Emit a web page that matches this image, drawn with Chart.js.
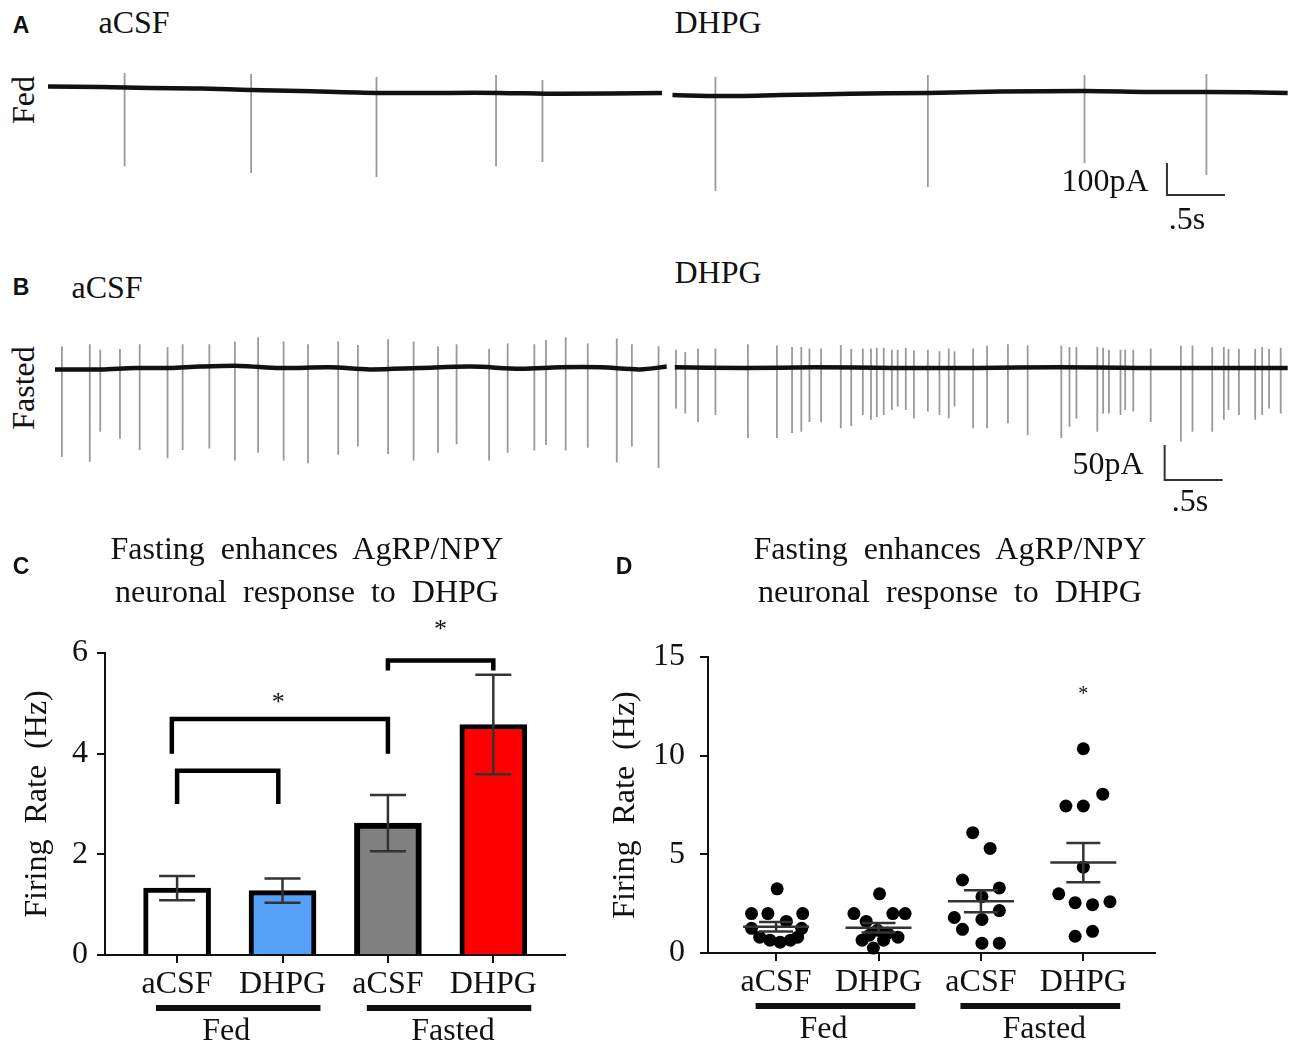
<!DOCTYPE html>
<html>
<head>
<meta charset="utf-8">
<script src="https://cdn.jsdelivr.net/npm/chart.js@4.4.1/dist/chart.umd.min.js"></script>
<style>
  body { margin: 0; background: #fff; }
  #fig { position: relative; width: 1300px; height: 1053px; overflow: hidden; font-family: "Liberation Serif", "Times New Roman", serif; color: #111; }
  canvas { position: absolute; }
  .t { position: absolute; transform: translate(-50%, -50%); font-size: 32px; line-height: 1; white-space: pre; }
  .letter { font-family: "Liberation Sans", Arial, sans-serif; font-weight: bold; font-size: 23px; }
  .rot { transform: translate(-50%, -50%) rotate(-90deg); }
</style>
</head>
<body>
<div id="fig">
  <canvas id="traceA" width="1242" height="176" style="left:48px;top:58px"></canvas>
  <canvas id="traceB" width="1242" height="168" style="left:48px;top:326px"></canvas>
  <canvas id="barChart" width="570" height="533" style="left:0px;top:520px"></canvas>
  <canvas id="dotChart" width="600" height="533" style="left:590px;top:520px"></canvas>

  <div class="t letter" style="left:21px;top:25px">A</div>
  <div class="t" style="left:134px;top:22px">aCSF</div>
  <div class="t" style="left:718px;top:22px">DHPG</div>
  <div class="t rot" style="left:23px;top:100px">Fed</div>
  <div class="t" style="left:1105px;top:180px">100pA</div>
  <div class="t" style="left:1187px;top:218px">.5s</div>

  <div class="t letter" style="left:21px;top:287px">B</div>
  <div class="t" style="left:107px;top:287px">aCSF</div>
  <div class="t" style="left:718px;top:272px">DHPG</div>
  <div class="t rot" style="left:23px;top:388px">Fasted</div>
  <div class="t" style="left:1108px;top:463px">50pA</div>
  <div class="t" style="left:1190px;top:500px">.5s</div>

  <div class="t letter" style="left:21px;top:566px">C</div>
  <div class="t" style="left:307px;top:548px">Fasting  enhances  AgRP/NPY</div>
  <div class="t" style="left:307px;top:591px">neuronal  response  to  DHPG</div>

  <div class="t letter" style="left:624px;top:566px">D</div>
  <div class="t" style="left:950px;top:548px">Fasting  enhances  AgRP/NPY</div>
  <div class="t" style="left:950px;top:591px">neuronal  response  to  DHPG</div>
</div>

<script>
Chart.defaults.font.family = '"Liberation Serif", "Times New Roman", serif';
Chart.defaults.color = '#111';
Chart.defaults.animation = false;
Chart.defaults.plugins.legend.display = false;
Chart.defaults.plugins.tooltip.enabled = false;

// ---- traces (time in s, current in pA) ----
// A: fed neuron
const fedAcsfBaseT = [0, 0.45, 0.88, 1.31, 1.74, 2.17, 2.83, 3.46, 3.89, 4.41, 5.29];
const fedAcsfBaseV = [11, 9, 6, 5, 0, -3, -9, -9, -9, -12, -9];
const fedAcsfSpikeT = [0.66, 1.75, 2.83, 3.86, 4.26];
const fedAcsfSpikeTop = [53, 50, 41, 47, 31];
const fedAcsfSpikeBottom = [-238, -259, -272, -238, -225];

const fedDhpgBaseT = [5.38, 5.79, 6.31, 6.91, 7.58, 8.2, 8.93, 9.49, 9.98, 10.68];
const fedDhpgBaseV = [-16, -19, -16, -12, -9, -5, -3, -6, -6, -9];
const fedDhpgSpikeT = [5.75, 7.58, 8.93, 9.98];
const fedDhpgSpikeTop = [41, 47, 47, 50];
const fedDhpgSpikeBottom = [-316, -303, -228, -266];

// B: fasted neuron
const fastedAcsfBaseT = [0.06, 0.45, 0.75, 1.05, 1.31, 1.65, 2.0, 2.43, 2.77, 3.2, 3.64, 4.07, 4.41, 4.76, 5.1, 5.33];
const fastedAcsfBaseV = [-2, -2, 0, 0, 2, 3, 0, 1, -2, 0, 2, -1, 1, 1, -2, 2];
const fastedAcsfSpikeT = [0.12, 0.36, 0.45, 0.62, 0.79, 1.03, 1.16, 1.39, 1.61, 1.81, 2.03, 2.24, 2.50, 2.67, 2.93, 3.15, 3.36, 3.52, 3.80, 3.96, 4.19, 4.29, 4.46, 4.65, 4.90, 5.03, 5.26];
const fastedAcsfSpikeTop = [31, 34, 26, 27, 34, 30, 34, 34, 38, 44, 38, 34, 38, 33, 41, 38, 31, 34, 27, 35, 34, 40, 44, 35, 42, 34, 31];
const fastedAcsfSpikeBottom = [-127, -134, -91, -101, -117, -129, -117, -115, -132, -121, -132, -136, -124, -112, -123, -132, -121, -109, -132, -121, -118, -110, -118, -114, -135, -112, -143];

const fastedDhpgBaseT = [5.4, 6.0, 6.6, 7.3, 8.0, 8.7, 9.4, 10.1, 10.68];
const fastedDhpgBaseV = [1, 0, 1, 0, 0, 1, 0, 0, 0];
const fastedDhpgSpikeT = [5.41, 5.49, 5.60, 5.75, 6.03, 6.28, 6.41, 6.49, 6.56, 6.66, 6.83, 6.92, 7.02, 7.09, 7.14, 7.20, 7.27, 7.32, 7.39, 7.46, 7.58, 7.68, 7.76, 7.81, 7.97, 8.09, 8.27, 8.44, 8.73, 8.80, 8.86, 9.04, 9.09, 9.14, 9.24, 9.28, 9.35, 9.50, 9.76, 9.86, 10.03, 10.13, 10.17, 10.26, 10.40, 10.46, 10.52, 10.62];
const fastedDhpgSpikeTop = [26, 23, 28, 28, 34, 32, 30, 30, 28, 28, 33, 27, 28, 28, 29, 29, 26, 26, 29, 25, 26, 24, 28, 24, 28, 32, 34, 32, 32, 30, 30, 30, 29, 26, 26, 26, 26, 28, 32, 32, 30, 30, 27, 27, 27, 30, 27, 29];
const fastedDhpgSpikeBottom = [-58, -65, -77, -67, -100, -100, -93, -91, -77, -78, -86, -83, -67, -74, -70, -67, -60, -55, -60, -72, -62, -67, -72, -55, -86, -86, -79, -96, -100, -84, -72, -91, -65, -65, -67, -60, -62, -77, -105, -91, -91, -74, -60, -67, -74, -67, -58, -65];

// scale bars: [time, current] of the corner, and sizes
const scaleBarA = [9.64, -328];
const scaleBarB = [9.62, -160];
const scaleBarSeconds = 0.5;
const scaleBarApA = 100;
const scaleBarBpA = 50;

// ---- summary data (C and D) ----
const groupLabels = ["aCSF", "DHPG", "aCSF", "DHPG"];
const conditionLabels = ["Fed", "Fasted"];
const meanRate = [1.33, 1.28, 2.62, 4.58];
const semRate = [0.24, 0.24, 0.56, 0.99];

const fedAcsfRate = [3.25, 2.0, 2.0, 2.0, 1.6, 1.25, 1.25, 0.8, 0.65, 0.55, 0.65, 0.8];
const fedAcsfJitter = [0.01, -0.24, -0.08, 0.26, 0.10, -0.24, 0.25, -0.16, -0.06, 0.04, 0.14, 0.21];
const fedDhpgRate = [3.0, 2.0, 2.0, 2.0, 1.6, 1.15, 0.65, 0.65, 0.8, 0.25, 1.0, 0.9];
const fedDhpgJitter = [0.01, -0.24, 0.14, 0.26, -0.12, -0.01, -0.16, 0.05, 0.19, -0.05, 0.09, -0.09];
const fastedAcsfRate = [6.1, 5.3, 3.7, 3.3, 2.85, 1.8, 2.15, 1.7, 1.2, 0.5, 0.5];
const fastedAcsfJitter = [-0.08, 0.09, -0.18, 0.18, 0.01, -0.26, 0.18, 0.01, -0.18, 0.01, 0.18];
const fastedDhpgRate = [10.35, 7.45, 7.45, 8.05, 4.35, 3.0, 2.55, 2.45, 2.6, 0.85, 1.1];
const fastedDhpgJitter = [0, -0.17, 0, 0.19, 0, -0.24, -0.08, 0.09, 0.26, -0.08, 0.09];

// significance brackets for C: [from group, to group, bar level, leg end]
const brackets = [
  [1, 1.96, 3.66, 3.0],
  [0.95, 3, 4.69, 4.0],
  [3, 4, 5.85, 5.65]
];
const starC = [[1.96, 5.0], [3.5, 6.46]];
const starD = [[4, 13.1]];

// ---------------------------------------------------------------
function pts(xs, ys) {
  return xs.map((x, i) => ({ x: x, y: ys[i] }));
}

function spikeLines(times, tops, bottoms) {
  const out = [];
  times.forEach((t, i) => {
    out.push({ x: t, y: tops[i] }, { x: t, y: bottoms[i] }, { x: t, y: null });
  });
  return out;
}

function traceChart(id, yMin, yMax, base1, base2, spikes, bar, barPa) {
  new Chart(id, {
    type: "line",
    data: {
      datasets: [
        { data: base1, borderColor: "#111", borderWidth: 4.5, tension: 0.3 },
        { data: base2, borderColor: "#111", borderWidth: 4.5, tension: 0.3 },
        { data: spikes, borderColor: "#9a9a9a", borderWidth: 1.8, spanGaps: false },
        {
          data: [
            { x: bar[0], y: bar[1] + barPa },
            { x: bar[0], y: bar[1] },
            { x: bar[0] + scaleBarSeconds, y: bar[1] }
          ],
          borderColor: "#333", borderWidth: 2
        }
      ]
    },
    options: {
      responsive: false,
      layout: { padding: 0 },
      elements: { point: { radius: 0 }, line: { borderCapStyle: "butt" } },
      datasets: { line: { clip: false } },
      scales: {
        x: { type: "linear", display: false, min: 0, max: 10.7 },
        y: { display: false, min: yMin, max: yMax }
      }
    }
  });
}

traceChart("traceA", -450, 100,
  pts(fedAcsfBaseT, fedAcsfBaseV), pts(fedDhpgBaseT, fedDhpgBaseV),
  spikeLines(fedAcsfSpikeT, fedAcsfSpikeTop, fedAcsfSpikeBottom)
    .concat(spikeLines(fedDhpgSpikeT, fedDhpgSpikeTop, fedDhpgSpikeBottom)),
  scaleBarA, scaleBarApA);

traceChart("traceB", -180, 60,
  pts(fastedAcsfBaseT, fastedAcsfBaseV), pts(fastedDhpgBaseT, fastedDhpgBaseV),
  spikeLines(fastedAcsfSpikeT, fastedAcsfSpikeTop, fastedAcsfSpikeBottom)
    .concat(spikeLines(fastedDhpgSpikeT, fastedDhpgSpikeTop, fastedDhpgSpikeBottom)),
  scaleBarB, scaleBarBpA);

// ---- shared axis setup for C and D ----
function summaryScales(xMin, xMax, yMax, yStep, yWidth, xHeight, tickPad, titlePad) {
  return {
    x: {
      type: "linear", min: xMin, max: xMax, offset: false,
      afterBuildTicks: (s) => { s.ticks = [1, 2, 3, 4].map((v) => ({ value: v })); },
      afterFit: (s) => { s.height = xHeight; },
      ticks: { autoSkip: false, maxRotation: 0, padding: 2, font: { size: 32 },
        callback: (v) => groupLabels[v - 1] },
      grid: { offset: false, drawOnChartArea: false, tickLength: 8, color: "#111", lineWidth: 2 },
      border: { color: "#111", width: 2 }
    },
    y: {
      min: 0, max: yMax,
      afterFit: (s) => { s.width = yWidth; },
      ticks: { stepSize: yStep, padding: tickPad, font: { size: 32 } },
      grid: { drawOnChartArea: false, tickLength: 8, color: "#111", lineWidth: 2 },
      border: { color: "#111", width: 2 },
      title: { display: true, text: "Firing  Rate  (Hz)", font: { size: 32 }, padding: { top: titlePad, bottom: 0 } }
    }
  };
}

function drawGroups(chart) {
  const { ctx, chartArea, scales: { x } } = chart;
  ctx.save();
  ctx.fillStyle = "#111";
  ctx.font = '32px "Liberation Serif", serif';
  ctx.textAlign = "center";
  ctx.textBaseline = "middle";
  conditionLabels.forEach((lab, i) => {
    const a = x.getPixelForValue(2 * i + 1 - 0.2);
    const b = x.getPixelForValue(2 * i + 2 + 0.36);
    ctx.fillRect(a, chartArea.bottom + 50, b - a, 6);
    ctx.fillText(lab, (a + b) / 2 - 12 + 16 * i, chartArea.bottom + 77);
  });
  ctx.restore();
}

function drawStars(chart, stars, size) {
  const { ctx, scales: { x, y } } = chart;
  ctx.save();
  ctx.fillStyle = "#111";
  ctx.font = size + 'px "Liberation Serif", serif';
  ctx.textAlign = "center";
  ctx.textBaseline = "middle";
  stars.forEach((s) => ctx.fillText("*", x.getPixelForValue(s[0]), y.getPixelForValue(s[1])));
  ctx.restore();
}

function drawSem(chart, halfMean, halfCap, color) {
  const { ctx, scales: { x, y } } = chart;
  ctx.save();
  ctx.strokeStyle = color;
  ctx.lineWidth = 2.5;
  meanRate.forEach((m, i) => {
    const px = x.getPixelForValue(i + 1);
    const hi = y.getPixelForValue(m + semRate[i]);
    const lo = y.getPixelForValue(m - semRate[i]);
    const mid = y.getPixelForValue(m);
    ctx.beginPath();
    ctx.moveTo(px, hi); ctx.lineTo(px, lo);
    ctx.moveTo(px - halfCap, hi); ctx.lineTo(px + halfCap, hi);
    ctx.moveTo(px - halfCap, lo); ctx.lineTo(px + halfCap, lo);
    if (halfMean) { ctx.moveTo(px - halfMean, mid); ctx.lineTo(px + halfMean, mid); }
    ctx.stroke();
  });
  ctx.restore();
}

// ---- C: bar chart ----
const barExtras = {
  id: "barExtras",
  afterDatasetsDraw(chart) {
    drawSem(chart, 0, 18, "#333");
    const { ctx, scales: { x, y } } = chart;
    ctx.save();
    ctx.strokeStyle = "#000";
    ctx.lineWidth = 4.5;
    brackets.forEach((b) => {
      ctx.beginPath();
      ctx.moveTo(x.getPixelForValue(b[0]), y.getPixelForValue(b[3]));
      ctx.lineTo(x.getPixelForValue(b[0]), y.getPixelForValue(b[2]));
      ctx.lineTo(x.getPixelForValue(b[1]), y.getPixelForValue(b[2]));
      ctx.lineTo(x.getPixelForValue(b[1]), y.getPixelForValue(b[3]));
      ctx.stroke();
    });
    ctx.restore();
    drawStars(chart, starC, 26);
  },
  afterDraw(chart) { drawGroups(chart); }
};

new Chart("barChart", {
  type: "bar",
  data: {
    datasets: [{
      data: meanRate.map((m, i) => ({ x: i + 1, y: m })),
      backgroundColor: ["#ffffff", "#55a0f8", "#808080", "#ff0000"],
      borderColor: "#000",
      borderWidth: [5, 5, 6, 5],
      barThickness: 67
    }]
  },
  options: {
    responsive: false,
    layout: { padding: { top: 133, right: 5, bottom: 0, left: 0 } },
    scales: summaryScales(0.316, 4.68, 6, 2, 105, 98, 9, 18)
  },
  plugins: [barExtras]
});

// ---- D: scatter with mean +/- SEM ----
const dotExtras = {
  id: "dotExtras",
  afterDatasetsDraw(chart) {
    drawSem(chart, 33, 17, "#333");
    drawStars(chart, starD, 20);
  },
  afterDraw(chart) { drawGroups(chart); }
};

const dotGroups = [
  [fedAcsfRate, fedAcsfJitter],
  [fedDhpgRate, fedDhpgJitter],
  [fastedAcsfRate, fastedAcsfJitter],
  [fastedDhpgRate, fastedDhpgJitter]
];

new Chart("dotChart", {
  type: "scatter",
  data: {
    datasets: dotGroups.map((g, gi) => ({
      data: g[0].map((v, i) => ({ x: gi + 1 + g[1][i], y: v })),
      backgroundColor: "#000",
      borderWidth: 0,
      pointRadius: 6.5,
      clip: false
    }))
  },
  options: {
    responsive: false,
    layout: { padding: { top: 137, right: 35, bottom: 0, left: 0 } },
    scales: summaryScales(0.335, 4.70, 15, 5, 118, 100, 15, 16)
  },
  plugins: [dotExtras]
});
</script>
</body>
</html>
